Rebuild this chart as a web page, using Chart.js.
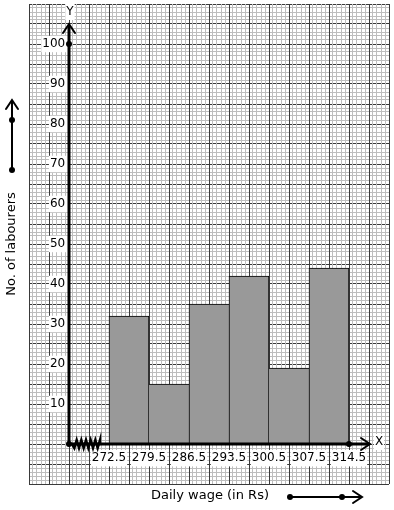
<!DOCTYPE html>
<html>
<head>
<meta charset="utf-8">
<script src="https://cdn.jsdelivr.net/npm/chart.js@4.4.1/dist/chart.umd.min.js"></script>
<style>
  html, body { margin: 0; padding: 0; background: #fff; }
  #wrap { width: 394px; height: 510px; }
</style>
</head>
<body>
<div id="wrap"><canvas id="histogram"></canvas></div>
<script>
// class boundaries (daily wage, Rs) - also the x tick labels
const wageBounds = [272.5, 279.5, 286.5, 293.5, 300.5, 307.5, 314.5];
// number of labourers in each class
const labourers = [32, 15, 35, 42, 19, 44];
// y tick labels
const yTicks = [10, 20, 30, 40, 50, 60, 70, 80, 90, 100];

// axis ranges (the graph paper goes past the axes)
const xMin = 258.5, xMax = 321.5, xBreak = 265.5;
const yMin = -10, yMax = 110;

Chart.defaults.font.family = "'DejaVu Sans', sans-serif";
Chart.defaults.font.size = 12;
Chart.defaults.color = "#000000";

// graph paper: one hidden axis per set of lines
function paperAxis(axis, step, color) {
  return {
    type: "linear",
    axis: axis,
    position: axis === "x" ? "bottom" : "left",
    offset: false,
    min: axis === "x" ? xMin : yMin,
    max: axis === "x" ? xMax : yMax,
    ticks: { display: false, stepSize: step },
    grid: { color: color, lineWidth: 1, drawTicks: false, offset: false },
    border: { display: false },
  };
}

const labelTicks = {
  autoSkip: false,
  maxRotation: 0,
  minRotation: 0,
  showLabelBackdrop: true,
  backdropColor: "#ffffff",
  backdropPadding: 1,
  color: "#000000",
};

// histogram bars sit at the middle of each class
const bars = labourers.map((v, i) => ({ x: (wageBounds[i] + wageBounds[i + 1]) / 2, y: v }));

// shared edge between two bars is drawn once, by the taller one
function barBorder(c) {
  const i = c.dataIndex;
  const prev = i > 0 ? labourers[i - 1] : -1;
  const next = i < labourers.length - 1 ? labourers[i + 1] : -1;
  return {
    top: 1,
    bottom: 0,
    left: labourers[i] >= prev ? 1 : 0,
    right: labourers[i] > next ? 1 : 0,
  };
}

function line(ctx, x1, y1, x2, y2) {
  ctx.beginPath();
  ctx.moveTo(x1, y1);
  ctx.lineTo(x2, y2);
  ctx.stroke();
}
function dot(ctx, x, y) {
  ctx.beginPath();
  ctx.arc(x, y, 3, 0, Math.PI * 2);
  ctx.fill();
}
function chevron(ctx, x, y, dx, dy) {
  // open arrow head pointing along (dx, dy)
  ctx.beginPath();
  ctx.moveTo(x - dx * 9 - dy * 6, y - dy * 9 - dx * 6);
  ctx.lineTo(x, y);
  ctx.lineTo(x - dx * 9 + dy * 6, y - dy * 9 + dx * 6);
  ctx.stroke();
}
function boxedText(ctx, text, x, y) {
  const w = ctx.measureText(text).width;
  ctx.fillStyle = "#ffffff";
  ctx.fillRect(x - w / 2 - 1, y - 8, w + 2, 16);
  ctx.fillStyle = "#000000";
  ctx.fillText(text, x, y);
}

// axes with arrows, break mark, titles
const axisDecor = {
  id: "axisDecor",
  afterDraw(chart) {
    const { ctx, chartArea, scales: { x, y } } = chart;
    const ox = x.getPixelForValue(xBreak);
    const oy = y.getPixelForValue(0);
    const topTip = chartArea.top + 20;
    const rightTip = chartArea.right - 19;

    ctx.save();
    ctx.strokeStyle = "#000000";
    ctx.fillStyle = "#000000";
    ctx.lineCap = "round";

    ctx.lineWidth = 3;
    line(ctx, ox, oy, ox, topTip + 2);
    line(ctx, ox, oy, rightTip - 2, oy);
    ctx.lineWidth = 2;
    chevron(ctx, ox, topTip, 0, -1);
    chevron(ctx, rightTip, oy, 1, 0);

    dot(ctx, ox, oy);
    dot(ctx, ox, y.getPixelForValue(yTicks[yTicks.length - 1]));
    dot(ctx, x.getPixelForValue(wageBounds[wageBounds.length - 1]), oy);

    // zigzag for the broken x axis
    const zStart = ox + 3, zEnd = x.getPixelForValue(wageBounds[0]) - 9;
    const teeth = 12;
    ctx.lineWidth = 2.5;
    ctx.beginPath();
    ctx.moveTo(zStart, oy);
    for (let i = 1; i <= teeth; i++) {
      ctx.lineTo(zStart + (zEnd - zStart) * i / teeth, oy + (i % 2 ? 4 : -4));
    }
    ctx.lineTo(zEnd, oy);
    ctx.stroke();

    ctx.font = "12px 'DejaVu Sans', sans-serif";
    ctx.textAlign = "center";
    ctx.textBaseline = "middle";
    boxedText(ctx, "Y", ox + 1, chartArea.top + 8);
    boxedText(ctx, "X", rightTip + 9, oy - 2);

    // axis titles
    ctx.font = "13px 'DejaVu Sans', sans-serif";
    ctx.fillText("Daily wage (in Rs)", 210, 496);
    ctx.save();
    ctx.translate(12, 244);
    ctx.rotate(-Math.PI / 2);
    ctx.fillText("No. of labourers", 0, 0);
    ctx.restore();

    // side arrows next to the titles
    ctx.strokeStyle = "#000000";
    ctx.lineWidth = 2;
    line(ctx, 12, 170, 12, 102);
    chevron(ctx, 12, 100, 0, -1);
    dot(ctx, 12, 120);
    dot(ctx, 12, 170);
    line(ctx, 290, 497, 360, 497);
    chevron(ctx, 362, 497, 1, 0);
    dot(ctx, 290, 497);
    dot(ctx, 342, 497);

    ctx.restore();
  },
};

new Chart(document.getElementById("histogram"), {
  type: "bar",
  data: {
    datasets: [{
      xAxisID: "x",
      yAxisID: "y",
      data: bars,
      backgroundColor: "#999999",
      borderColor: "#000000",
      borderWidth: barBorder,
      borderSkipped: false,
      barPercentage: 1,
      categoryPercentage: 1,
    }],
  },
  options: {
    responsive: true,
    maintainAspectRatio: false,
    animation: false,
    layout: { padding: { left: 29, right: 5, top: 4, bottom: 26 } },
    plugins: { legend: { display: false }, tooltip: { enabled: false } },
    scales: {
      yMinor: paperAxis("y", 1, "#bdbdbd"),
      yMajor: paperAxis("y", 5, "#3a3a3a"),
      xMinor: paperAxis("x", 0.7, "#bdbdbd"),
      xMajor: paperAxis("x", 3.5, "#3a3a3a"),
      x: {
        type: "linear",
        position: { y: 0 },
        offset: false,
        min: xMin,
        max: xMax,
        afterBuildTicks: (scale) => { scale.ticks = wageBounds.map(v => ({ value: v })); },
        afterFit: (scale) => { scale.height = 0; scale.paddingLeft = 0; scale.paddingRight = 0; },
        ticks: { ...labelTicks, padding: 7, callback: (v) => v.toFixed(1) },
        grid: { display: false, drawTicks: false, offset: false },
        border: { display: false },
      },
      y: {
        type: "linear",
        position: { x: xBreak },
        min: yMin,
        max: yMax,
        afterBuildTicks: (scale) => { scale.ticks = yTicks.map(v => ({ value: v })); },
        afterFit: (scale) => { scale.width = 0; scale.paddingTop = 0; scale.paddingBottom = 0; },
        ticks: { ...labelTicks, callback: (v) => String(v) + " " },
        grid: { display: false, drawTicks: false },
        border: { display: false },
      },
    },
  },
  plugins: [axisDecor],
});
</script>
</body>
</html>
